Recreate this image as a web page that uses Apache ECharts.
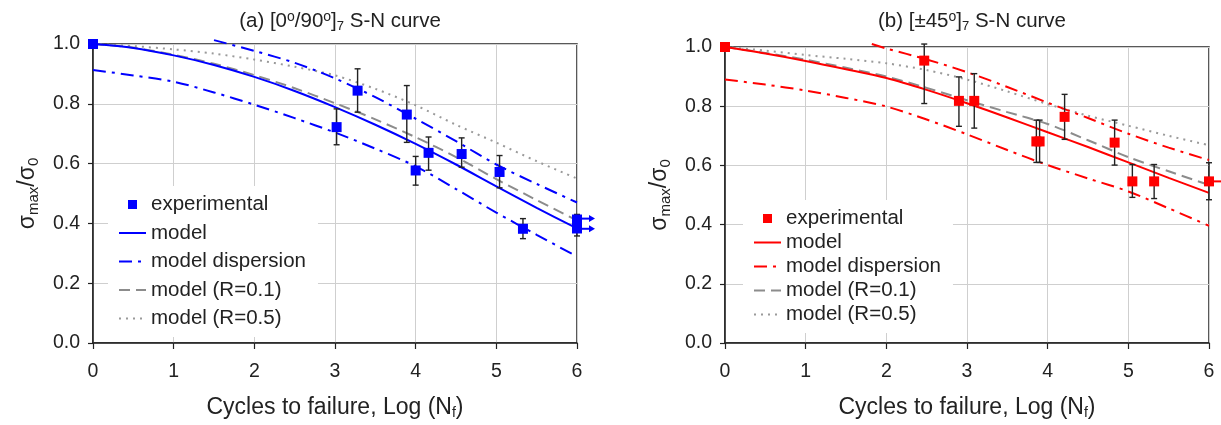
<!DOCTYPE html>
<html>
<head>
<meta charset="utf-8">
<script src="https://cdn.jsdelivr.net/npm/echarts@6/dist/echarts.min.js"></script>
<style>
html,body{margin:0;padding:0;background:#fff;}
#a{position:absolute;left:0;top:0;width:610px;height:425px;}
#b{position:absolute;left:610px;top:0;width:611px;height:425px;}
</style>
</head>
<body>
<div id="a"></div>
<div id="b"></div>
<script>
// ---------- data ----------
const xTicks = [0, 1, 2, 3, 4, 5, 6];
const yTicks = [0, 0.2, 0.4, 0.6, 0.8, 1.0];
const curveX = [0, 0.5, 1, 1.5, 2, 2.5, 3, 3.5, 4, 4.5, 5, 5.5, 6];

// (a) [0/90]7
const modelA = [1.0, 0.987, 0.962, 0.930, 0.890, 0.843, 0.789, 0.730, 0.666, 0.597, 0.524, 0.452, 0.383];
const r01A   = [1.0, 0.988, 0.964, 0.934, 0.896, 0.852, 0.802, 0.748, 0.688, 0.622, 0.548, 0.478, 0.410];
const r05A   = [1.0, 0.993, 0.982, 0.968, 0.948, 0.924, 0.895, 0.850, 0.795, 0.730, 0.670, 0.608, 0.550];
const upperAX = [1.5, 2, 2.5, 3, 3.5, 4, 4.5, 5, 5.5, 6];
const upperA  = [1.013, 0.977, 0.937, 0.885, 0.822, 0.750, 0.675, 0.597, 0.532, 0.470];
const lowerA  = [0.913, 0.895, 0.874, 0.838, 0.797, 0.752, 0.704, 0.650, 0.591, 0.515, 0.436, 0.362, 0.289];
const expA = [[0, 1.0], [3.02, 0.722], [3.28, 0.844], [3.89, 0.764], [4.00, 0.577], [4.16, 0.636],
              [4.57, 0.632], [5.04, 0.572], [5.33, 0.382], [6.0, 0.413], [6.0, 0.383]];
const errA = [[3.02, 0.663, 0.783], [3.28, 0.772, 0.917], [3.89, 0.671, 0.861], [4.00, 0.528, 0.624],
              [4.16, 0.578, 0.689], [4.57, 0.588, 0.686], [5.04, 0.519, 0.627], [5.33, 0.349, 0.416],
              [6.0, 0.385, 0.430], [6.0, 0.358, 0.410]];
const runoutA = [[6.0, 0.416], [6.0, 0.382]];

// (b) [+-45]7
const modelB = [1.0, 0.978, 0.953, 0.925, 0.895, 0.855, 0.810, 0.762, 0.712, 0.662, 0.610, 0.558, 0.507];
const r01B   = [1.0, 0.980, 0.957, 0.930, 0.900, 0.862, 0.820, 0.780, 0.740, 0.685, 0.628, 0.580, 0.534];
const r05B   = [1.0, 0.988, 0.973, 0.960, 0.945, 0.922, 0.890, 0.850, 0.807, 0.768, 0.734, 0.700, 0.668];
const upperBX = [1.82, 2, 2.5, 3, 3.5, 4, 4.5, 5, 5.5, 6];
const upperB  = [1.010, 0.995, 0.958, 0.915, 0.865, 0.812, 0.760, 0.707, 0.660, 0.618];
const lowerB  = [0.890, 0.873, 0.853, 0.828, 0.799, 0.755, 0.705, 0.652, 0.601, 0.556, 0.512, 0.455, 0.396];
const expB = [[0, 1.0], [2.47, 0.954], [2.90, 0.818], [3.09, 0.818], [3.86, 0.681], [3.90, 0.681],
              [4.21, 0.764], [4.83, 0.677], [5.05, 0.546], [5.32, 0.546], [6.0, 0.546]];
const errB = [[2.47, 0.809, 1.010], [2.90, 0.732, 0.899], [3.09, 0.726, 0.910], [3.86, 0.610, 0.753],
              [3.90, 0.610, 0.753], [4.21, 0.688, 0.840], [4.83, 0.601, 0.753], [5.05, 0.492, 0.603],
              [5.32, 0.488, 0.603], [6.0, 0.484, 0.609]];
const runoutB = [[6.0, 0.546]];

const titleA = '{t|(a) [0}{sup|o}{t|/90}{sup|o}{t|]}{sub|7}{t| S-N curve}';
const titleB = '{t|(b) [±45}{sup|o}{t|]}{sub|7}{t| S-N curve}';
const legendNames = ['experimental', 'model', 'model dispersion', 'model (R=0.1)', 'model (R=0.5)'];

// ---------- helpers ----------
const FONT = "'Liberation Sans', Arial, sans-serif";
const TXT = '#222';
const zip = (xs, ys) => xs.map((x, i) => [x, ys[i]]);

function errRender(params, api) {
  const x = api.value(0), lo = api.value(1), hi = api.value(2);
  const p1 = api.coord([x, hi]), p2 = api.coord([x, lo]);
  const w = 3, st = {stroke: '#222', lineWidth: 1.4};
  return {type: 'group', children: [
    {type: 'line', shape: {x1: p1[0], y1: p1[1], x2: p2[0], y2: p2[1]}, style: st},
    {type: 'line', shape: {x1: p1[0] - w, y1: p1[1], x2: p1[0] + w, y2: p1[1]}, style: st},
    {type: 'line', shape: {x1: p2[0] - w, y1: p2[1], x2: p2[0] + w, y2: p2[1]}, style: st}
  ]};
}
function arrowRenderFactory(color) {
  return function (params, api) {
    const p = api.coord([api.value(0), api.value(1)]);
    const len = 18;
    return {type: 'group', children: [
      {type: 'line', shape: {x1: p[0], y1: p[1], x2: p[0] + len - 5, y2: p[1]}, style: {stroke: color, lineWidth: 2}},
      {type: 'polygon', shape: {points: [[p[0] + len - 6, p[1] - 3.5], [p[0] + len, p[1]], [p[0] + len - 6, p[1] + 3.5]]}, style: {fill: color}}
    ]};
  };
}

function buildOption(cfg) {
  const c = cfg.color;
  const lineBase = {type: 'line', symbol: 'none', smooth: 0.3, clip: false, z: 2};
  const hideSym = {itemStyle: {opacity: 0}};
  return {
    animation: false,
    textStyle: {fontFamily: FONT},
    title: {
      text: cfg.title, left: cfg.titleCenter, top: 5, textAlign: 'center',
      textStyle: {fontWeight: 'normal', rich: {
        t: {fontSize: 20.5, color: TXT, fontFamily: FONT, fontWeight: 'normal'},
        sup: {fontSize: 14, color: TXT, fontFamily: FONT, fontWeight: 'normal', padding: [0, 0, 9, 0]},
        sub: {fontSize: 13, color: TXT, fontFamily: FONT, fontWeight: 'normal', padding: [10, 0, 0, 0]}
      }}
    },
    grid: {left: cfg.gridLeft, top: cfg.gridTop, width: 484, height: 300, show: true,
           borderColor: '#222', borderWidth: 1.5, backgroundColor: 'transparent'},
    legend: {
      orient: 'vertical', left: cfg.legendLeft, top: cfg.legendTop,
      padding: [8, 12, 8, 10], backgroundColor: '#fff',
      itemWidth: 27, itemHeight: 9, itemGap: cfg.legendGap,
      textStyle: {fontSize: 20.5, color: TXT, fontFamily: FONT},
      data: [
        {name: 'experimental', icon: 'path://M0,0L0,0M9,0L18,0L18,9L9,9ZM27,9L27,9'},
        Object.assign({name: 'model'}, hideSym),
        Object.assign({name: 'model dispersion'}, hideSym),
        Object.assign({name: 'model (R=0.1)'}, hideSym),
        Object.assign({name: 'model (R=0.5)'}, hideSym)
      ],
      selectedMode: false
    },
    xAxis: {
      type: 'value', min: 0, max: 6, interval: 1,
      axisLine: {lineStyle: {color: '#222', width: 1.5}},
      axisTick: {show: true, length: 6, lineStyle: {color: '#222', width: 1.2}},
      axisLabel: {fontSize: 19.5, color: TXT, margin: 19, fontFamily: FONT,
                  formatter: v => xTicks.includes(v) ? String(v) : ''},
      splitLine: {show: true, lineStyle: {color: '#cfcfcf', width: 1}},
      name: '{n|Cycles to failure, Log (N}{s|f}{n|)}', nameLocation: 'middle', nameGap: 52,
      nameTextStyle: {rich: {
        n: {fontSize: 23, color: TXT, fontFamily: FONT},
        s: {fontSize: 14, color: TXT, fontFamily: FONT, padding: [11, 0, 0, 0]}
      }}
    },
    yAxis: {
      type: 'value', min: 0, max: 1, interval: 0.2,
      axisLine: {show: true, lineStyle: {color: '#222', width: 1.5}},
      axisTick: {show: true, length: 5, lineStyle: {color: '#222', width: 1.2}},
      axisLabel: {fontSize: 19.5, color: TXT, margin: 13, fontFamily: FONT,
                  formatter: v => yTicks.some(t => Math.abs(t - v) < 1e-9) ? v.toFixed(1) : ''},
      splitLine: {show: true, lineStyle: {color: '#cfcfcf', width: 1}},
      name: '{n|σ}{s|max}{n|/σ}{s|0}', nameLocation: 'middle', nameGap: 52, nameRotate: 90,
      nameTextStyle: {rich: {
        n: {fontSize: 23, color: TXT, fontFamily: FONT},
        s: {fontSize: 15, color: TXT, fontFamily: FONT, padding: [12, 0, 0, 0]}
      }}
    },
    series: [
      Object.assign({}, lineBase, {name: 'model (R=0.5)', data: zip(curveX, cfg.r05),
        lineStyle: {color: '#9a9a9a', width: 2, type: [2, 5]}, itemStyle: {color: '#9a9a9a'}}),
      Object.assign({}, lineBase, {name: 'model (R=0.1)', data: zip(curveX, cfg.r01),
        lineStyle: {color: '#8c8c8c', width: 2, type: [11, 6]}, itemStyle: {color: '#8c8c8c'}}),
      Object.assign({}, lineBase, {name: 'model dispersion', data: zip(cfg.upperX, cfg.upper),
        lineStyle: {color: c, width: 2, type: [13, 6, 3, 6]}, itemStyle: {color: c}}),
      Object.assign({}, lineBase, {name: 'model dispersion', data: zip(curveX, cfg.lower),
        lineStyle: {color: c, width: 2, type: [13, 6, 3, 6]}, itemStyle: {color: c}}),
      Object.assign({}, lineBase, {name: 'model', data: zip(curveX, cfg.model),
        lineStyle: {color: c, width: 2, type: 'solid'}, itemStyle: {color: c}}),
      {type: 'custom', name: 'err', renderItem: errRender, data: cfg.err, z: 3, clip: false, silent: true},
      {type: 'custom', name: 'runout', renderItem: arrowRenderFactory(c), data: cfg.runout, z: 3, clip: false, silent: true},
      {type: 'scatter', name: 'experimental', data: cfg.exp, symbol: 'rect', symbolSize: 10,
        itemStyle: {color: c, opacity: 1}, z: 5, clip: false}
    ]
  };
}

const chartA = echarts.init(document.getElementById('a'), null, {renderer: 'canvas'});
chartA.setOption(buildOption({
  color: '#0000ff', title: titleA, titleCenter: 335, gridLeft: 93, gridTop: 44,
  legendLeft: 108, legendTop: 186, legendGap: 7.5,
  model: modelA, r01: r01A, r05: r05A, upperX: upperAX, upper: upperA, lower: lowerA,
  exp: expA, err: errA, runout: runoutA
}));

const chartB = echarts.init(document.getElementById('b'), null, {renderer: 'canvas'});
chartB.setOption(buildOption({
  color: '#ff0000', title: titleB, titleCenter: 357, gridLeft: 115, gridTop: 47,
  legendLeft: 133, legendTop: 200, legendGap: 3,
  model: modelB, r01: r01B, r05: r05B, upperX: upperBX, upper: upperB, lower: lowerB,
  exp: expB, err: errB, runout: runoutB
}));
</script>
</body>
</html>
